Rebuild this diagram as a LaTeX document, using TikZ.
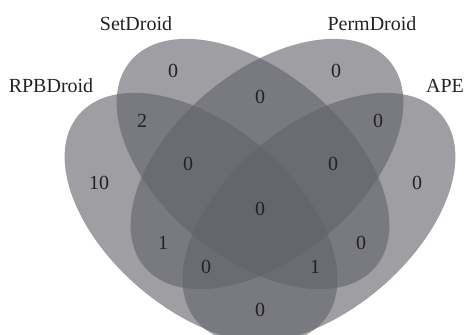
\documentclass[tikz,border=0pt]{standalone}
\usepackage{fontspec}
\setmainfont{Liberation Serif}
\usepackage{tikz}

\definecolor{setgray}{RGB}{98,98,106}
\definecolor{numgray}{RGB}{34,34,38}

\begin{document}
\begin{tikzpicture}[x=0.5pt,y=-0.5pt, font=\fontsize{10}{12}\selectfont, text=numgray]
	\tikzset{set/.style={fill=setgray, fill opacity=0.62}}
	\useasboundingbox (0,0) rectangle (464,335);
	%\draw [help lines, step=50] (0,0) grid (464,335);
	\clip (0,0) rectangle (464,335);
	\fill [set, shift={(201,218)}, rotate=-40] (0,0) ellipse [x radius=80pt, y radius=46.5pt];
	\fill [set, shift={(253,164)}, rotate=-40] (0,0) ellipse [x radius=80pt, y radius=46.5pt];
	\fill [set, shift={(267,164)}, rotate=40] (0,0) ellipse [x radius=80pt, y radius=46.5pt];
	\fill [set, shift={(319,218)}, rotate=40] (0,0) ellipse [x radius=80pt, y radius=46.5pt];
	% set names
	\node (rpb) at (51,86) {RPBDroid};
	\node (setd) at (136,24) {SetDroid};
	\node (perm) at (372,24) {PermDroid};
	\node (ape) at (445,86) {APE};
	% counts
	\node (n1) at (173,71) {0};
	\node (n2) at (336,71) {0};
	\node (n3) at (260,97) {0};
	\node (n4) at (142,121) {2};
	\node (n5) at (378,121) {0};
	\node (n6) at (99,183) {10};
	\node (n7) at (417,183) {0};
	\node (n8) at (188,164) {0};
	\node (n9) at (333,164) {0};
	\node (n10) at (260,209) {0};
	\node (n11) at (163,243) {1};
	\node (n12) at (361,243) {0};
	\node (n13) at (206,267) {0};
	\node (n14) at (315,267) {1};
	\node (n15) at (260,310) {0};
\end{tikzpicture}
\end{document}
